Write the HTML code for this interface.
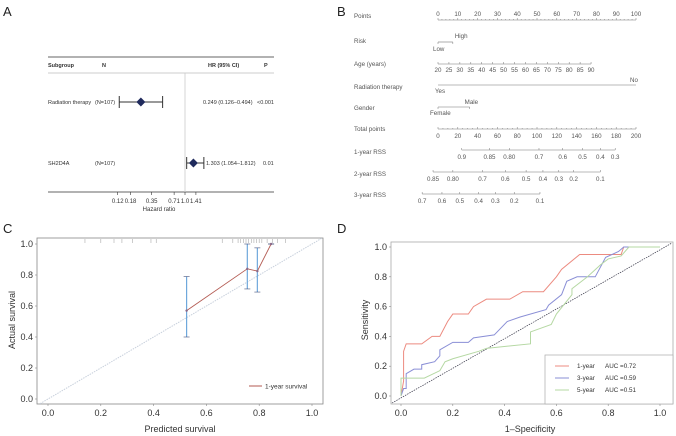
<!DOCTYPE html>
<html><head><meta charset="utf-8"><style>
html,body{margin:0;padding:0;background:#fff;}
svg{display:block;font-family:"Liberation Sans",Arial,sans-serif;}
</style></head><body>
<svg id="fig" width="676" height="436" viewBox="0 0 676 436">
<g>
 <text x="3" y="16" font-size="13" fill="#222">A</text>
 <line x1="48" y1="57" x2="274" y2="57" stroke="#333" stroke-width="0.8"/>
 <line x1="48" y1="73" x2="274" y2="73" stroke="#999" stroke-width="0.5"/>
 <line x1="48" y1="192" x2="274" y2="192" stroke="#333" stroke-width="0.8"/>
 <g font-size="5.5" fill="#333">
  <text x="48" y="67" font-weight="bold">Subgroup</text>
  <text x="102" y="67" font-weight="bold">N</text>
  <text x="208" y="67" font-weight="bold">HR (95% CI)</text>
  <text x="264" y="67" font-weight="bold">P</text>
 </g>
 <g id="forest"></g>
</g>
<g>
 <text x="337" y="16" font-size="13" fill="#222">B</text>
 <g id="nomo"></g>
</g>
<g>
 <text x="3" y="233" font-size="13" fill="#222">C</text>
 <g id="calib"></g>
</g>
<g>
 <text x="337" y="233" font-size="13" fill="#222">D</text>
 <g id="roc"></g>
</g>
</svg>
<script>
// ---- Panel A data ----
const forestNames = ["Radiation therapy","SH2D4A"];
const forestN = ["(N=107)","(N=107)"];
const forestHR = [0.249,1.303];
const forestLo = [0.126,1.054];
const forestHi = [0.494,1.812];
const forestHRText = ["0.249 (0.126–0.494)","1.303 (1.054–1.812)"];
const forestP = ["<0.001","0.01"];
const forestTicks = [0.12,0.18,0.35,0.71,1.0,1.41];
const forestTickLabels = ["0.12","0.18","0.35","0.71","1.0","1.41"];

// ---- Panel B data ----
const nomoPointsTicks = [0,10,20,30,40,50,60,70,80,90,100];
const nomoAgeLabels = [20,25,30,35,40,45,50,55,60,65,70,75,80,85,90];
const nomoTotalTicks = [0,20,40,60,80,100,120,140,160,180,200];
const rss1Labels = ["0.9","0.85","0.80","0.7","0.6","0.5","0.4","0.3"];
const rss1Total = [24,52,72,102,126,146,164,179];
const rss2Labels = ["0.85","0.80","0.7","0.6","0.5","0.4","0.3","0.2","0.1"];
const rss2Total = [-5,15,45,68,89,106,122,137,164];
const rss3Labels = ["0.7","0.6","0.5","0.4","0.3","0.2","0.1"];
const rss3Total = [-16,4,22,41,58,77,103];

// ---- Panel C data ----
const calPred = [0.525,0.755,0.793,0.845];
const calObs = [0.57,0.84,0.825,1.0];
const calLo = [0.40,0.71,0.69,1.0];
const calHi = [0.79,1.0,0.975,1.0];
const calRug = [0.14,0.2,0.25,0.28,0.32,0.39,0.41,0.66,0.7,0.72,0.73,0.74,0.75,0.76,0.77,0.78,0.79,0.8,0.81,0.83,0.85,0.87,0.9];
const calTicks = [0,0.2,0.4,0.6,0.8,1.0];

// ---- Panel D data ----
const roc1x = [0,0.01,0.01,0.02,0.08,0.12,0.15,0.18,0.2,0.26,0.28,0.33,0.42,0.47,0.55,0.6,0.62,0.69,0.85,0.86,1];
const roc1y = [0,0.1,0.3,0.35,0.35,0.4,0.4,0.5,0.55,0.55,0.6,0.65,0.65,0.7,0.7,0.8,0.85,0.95,0.95,1,1];
const roc3x = [0,0.01,0.02,0.02,0.05,0.08,0.08,0.13,0.15,0.15,0.2,0.26,0.28,0.36,0.41,0.46,0.56,0.57,0.62,0.64,0.68,0.75,0.79,0.84,0.86,1];
const roc3y = [0,0.05,0.05,0.15,0.18,0.18,0.21,0.23,0.27,0.31,0.36,0.36,0.39,0.41,0.5,0.53,0.58,0.61,0.68,0.77,0.8,0.8,0.93,0.97,1,1];
const roc5x = [0,0,0.09,0.15,0.17,0.2,0.3,0.33,0.5,0.5,0.58,0.6,0.66,0.66,0.72,0.77,0.8,0.85,0.88,1];
const roc5y = [0,0.12,0.12,0.17,0.23,0.25,0.3,0.32,0.35,0.43,0.48,0.55,0.68,0.72,0.8,0.88,0.92,0.94,1,1];
const rocLabels = ["1-year","3-year","5-year"];
const rocAUC = ["AUC =0.72","AUC =0.59","AUC =0.51"];

const NS="http://www.w3.org/2000/svg";
function mk(parent,tag,attrs,text){const e=document.createElementNS(NS,tag);for(const k in attrs)e.setAttribute(k,attrs[k]);if(text!==undefined)e.textContent=text;parent.appendChild(e);return e;}

// ---- Panel A ----
(function(){
 const g=document.getElementById('forest');
 const fx=v=>185+22*Math.log2(v);
 const rowY=[102,163];
 let e=mk(g,'line',{x1:185,y1:73,x2:185,y2:192,stroke:'#ccc','stroke-width':0.8});
 
 
 forestNames.forEach((n,i)=>{
  const y=rowY[i];
  let t=mk(g,'text',{x:48,y:y+2,'font-size':5.5,fill:'#333'},n);
  
  
  t=mk(g,'text',{x:95,y:y+2,'font-size':5.5,fill:'#333'},forestN[i]);
  
  
  let l=mk(g,'line',{x1:fx(forestLo[i]),y1:y,x2:fx(forestHi[i]),y2:y,stroke:'#333','stroke-width':1});
  
  
  [forestLo[i],forestHi[i]].forEach(v=>{let c=mk(g,'line',{x1:fx(v),y1:y-6,x2:fx(v),y2:y+6,stroke:'#333','stroke-width':1});
   
   });
  const cx=fx(forestHR[i]);
  let d=mk(g,'polygon',{points:`${cx-4.5},${y} ${cx},${y-4.5} ${cx+4.5},${y} ${cx},${y+4.5}`,fill:'#1f2a5c'});
  
  
  t=mk(g,'text',{x:i?206:203,y:y+2,'font-size':5.5,fill:'#333'},forestHRText[i]);
  
  
  t=mk(g,'text',{x:i?263:257,y:y+2,'font-size':5.5,fill:'#333'},forestP[i]);
  
  
 });
 forestTicks.forEach((v,i)=>{
  let l=mk(g,'line',{x1:fx(v),y1:192,x2:fx(v),y2:195,stroke:'#333','stroke-width':0.6});
  
  
  let t=mk(g,'text',{x:fx(v),y:203,'font-size':6,fill:'#333','text-anchor':'middle'},forestTickLabels[i]);
  
  
 });
 let t=mk(g,'text',{x:159,y:211,'font-size':6,fill:'#333','text-anchor':'middle'},'Hazard ratio');
 
 
})();

// ---- Panel B ----
(function(){
 const g=document.getElementById('nomo');
 const px=p=>438+1.98*p, tx=v=>438+0.99*v;
 const col='#555', fs=6.2;
 function label(y,s){let t=mk(g,'text',{x:354,y:y,'font-size':fs,fill:col},s);
  
  }
 function axis(x1,x2,y){let l=mk(g,'line',{x1:x1,y1:y,x2:x2,y2:y,stroke:'#777','stroke-width':0.6});
  
  }
 function tick(x,y,up,lab,ly){let l=mk(g,'line',{x1:x,y1:y,x2:x,y2:y+(up?-2:2),stroke:'#777','stroke-width':0.5});
  
  
  if(lab!==undefined){let t=mk(g,'text',{x:x,y:ly,'font-size':fs,fill:col,'text-anchor':'middle'},lab);
  
  }}
 function txt(x,y,s,a){let t=mk(g,'text',{x:x,y:y,'font-size':fs,fill:col,'text-anchor':a||'middle'},s);
  
  }
 label(18,'Points'); axis(px(0),px(100),20);
 for(let p=0;p<=100;p+=2) {let l=mk(g,'line',{x1:px(p),y1:20,x2:px(p),y2:p%10?19:18,stroke:'#777','stroke-width':0.5});}
 nomoPointsTicks.forEach(p=>txt(px(p),16,String(p)));
 label(43,'Risk'); axis(px(0),px(7.5),42); tick(px(0),42,false); tick(px(7.5),42,false);
 txt(px(7.5)+2,38,'High','start'); txt(px(0)-5,51,'Low','start');
 label(66,'Age (years)'); axis(px(0),px(77.3),64);
 nomoAgeLabels.forEach((a,i)=>tick(px((a-20)*77.3/70),64,true,String(a),72));
 label(89,'Radiation therapy'); axis(px(0),px(100),85);
 txt(634,82,'No'); txt(440,93,'Yes');
 label(110,'Gender'); axis(px(0),px(16),107); tick(px(0),107,false); tick(px(16),107,false);
 txt(px(16)-5,104,'Male','start'); txt(px(0)-8,115,'Female','start');
 label(131,'Total points'); axis(tx(0),tx(200),129);
 for(let v=0;v<=200;v+=5){let l=mk(g,'line',{x1:tx(v),y1:129,x2:tx(v),y2:v%20?128:127,stroke:'#777','stroke-width':0.5});}
 nomoTotalTicks.forEach(v=>txt(tx(v),138,String(v)));
 label(154,'1-year RSS'); axis(tx(rss1Total[0]),tx(rss1Total[rss1Total.length-1]),150);
 rss1Total.forEach((v,i)=>tick(tx(v),150,true,rss1Labels[i],159));
 label(176,'2-year RSS'); axis(tx(rss2Total[0]),tx(rss2Total[rss2Total.length-1]),172);
 rss2Total.forEach((v,i)=>tick(tx(v),172,true,rss2Labels[i],181));
 label(197,'3-year RSS'); axis(tx(rss3Total[0]),tx(rss3Total[rss3Total.length-1]),194);
 rss3Total.forEach((v,i)=>tick(tx(v),194,true,rss3Labels[i],203));
})();

// ---- Panel C ----
(function(){
 const g=document.getElementById('calib');
 const X=v=>48+264*v, Y=v=>399-155*v;
 let r=mk(g,'rect',{x:37,y:238,width:286,height:166,fill:'none',stroke:'#888','stroke-width':0.8});
 
 
 let d=mk(g,'line',{x1:X(-0.03),y1:Y(-0.03),x2:X(1.04),y2:Y(1.04),stroke:'#c8d0dc','stroke-width':1,'stroke-dasharray':'1.5 1'});
 
 
 calTicks.forEach(v=>{
  let t=mk(g,'text',{x:33,y:Y(v)+3,'font-size':9,fill:'#333','text-anchor':'end'},v.toFixed(1));
  
  
  let l=mk(g,'line',{x1:35,y1:Y(v),x2:37,y2:Y(v),stroke:'#888','stroke-width':0.6});
  
  
  t=mk(g,'text',{x:X(v),y:416,'font-size':9,fill:'#333','text-anchor':'middle'},v.toFixed(1));
  
  
  l=mk(g,'line',{x1:X(v),y1:404,x2:X(v),y2:406,stroke:'#888','stroke-width':0.6});
  
  
 });
 calRug.forEach(v=>{let l=mk(g,'line',{x1:X(v),y1:239,x2:X(v),y2:243,stroke:'#aaa','stroke-width':0.6});
  
  });
 calPred.forEach((p,i)=>{
  let l=mk(g,'line',{x1:X(p),y1:Y(calLo[i]),x2:X(p),y2:Y(calHi[i]),stroke:'#6fa8dc','stroke-width':1.2});
  
  
  [calLo[i],calHi[i]].forEach(v=>{let c=mk(g,'line',{x1:X(p)-3,y1:Y(v),x2:X(p)+3,y2:Y(v),stroke:'#44507a','stroke-width':0.6});
   
   });
 });
 let pl=mk(g,'polyline',{points:calPred.map((p,i)=>X(p)+','+Y(calObs[i])).join(' '),fill:'none',stroke:'#b35a52','stroke-width':0.9});
 
 
 calPred.forEach((p,i)=>{let c=mk(g,'circle',{cx:X(p),cy:Y(calObs[i]),r:1.2,fill:'#8a6a8a'});
  
  });
 let ll=mk(g,'line',{x1:249,y1:386,x2:262,y2:386,stroke:'#b35a52','stroke-width':1});
 
 
 let t=mk(g,'text',{x:265,y:388.5,'font-size':6.5,fill:'#333'},'1-year survival');
 
 
 t=mk(g,'text',{x:180,y:432,'font-size':9,fill:'#333','text-anchor':'middle'},'Predicted survival');
 
 
 t=mk(g,'text',{x:0,y:0,'font-size':9,fill:'#333','text-anchor':'middle',transform:'translate(15,320) rotate(-90)'},'Actual survival');
 
 
})();

// ---- Panel D ----
(function(){
 const g=document.getElementById('roc');
 const X=v=>401+259*v, Y=v=>396-149*v;
 let r=mk(g,'rect',{x:391,y:242,width:282,height:162,fill:'none',stroke:'#aaa','stroke-width':0.8});
 
 
 let d=mk(g,'line',{x1:392,y1:403,x2:672,y2:243,stroke:'#334','stroke-width':0.7,'stroke-dasharray':'1.5 1'});
 
 
 calTicks.forEach(v=>{
  let t=mk(g,'text',{x:387,y:Y(v)+3,'font-size':9,fill:'#333','text-anchor':'end'},v.toFixed(1));
  
  
  let l=mk(g,'line',{x1:389,y1:Y(v),x2:391,y2:Y(v),stroke:'#888','stroke-width':0.6});
  
  
  t=mk(g,'text',{x:X(v),y:416,'font-size':9,fill:'#333','text-anchor':'middle'},v.toFixed(1));
  
  
  l=mk(g,'line',{x1:X(v),y1:404,x2:X(v),y2:406,stroke:'#888','stroke-width':0.6});
  
  
 });
 const series=[[roc1x,roc1y,'#ec8b80'],[roc3x,roc3y,'#8a8fd6'],[roc5x,roc5y,'#b5d8a3']];
 series.forEach((s,k)=>{
  let p=mk(g,'polyline',{points:s[0].map((x,i)=>X(x)+','+Y(s[1][i])).join(' '),fill:'none',stroke:s[2],'stroke-width':1});
  
  
 });
 let lb=mk(g,'rect',{x:545,y:355,width:128,height:49,fill:'#fff',stroke:'#aaa','stroke-width':0.7});
 
 
 series.forEach((s,k)=>{
  const y=366+12*k;
  let l=mk(g,'line',{x1:555,y1:y,x2:569,y2:y,stroke:s[2],'stroke-width':1});
  
  
  let t=mk(g,'text',{x:577,y:y+2.2,'font-size':6.3,fill:'#333'},rocLabels[k]);
  
  
  t=mk(g,'text',{x:605,y:y+2.2,'font-size':6.3,fill:'#333'},rocAUC[k]);
  
  
 });
 let t=mk(g,'text',{x:530,y:432,'font-size':9,fill:'#333','text-anchor':'middle'},'1–Specificity');
 
 
 t=mk(g,'text',{x:0,y:0,'font-size':9,fill:'#333','text-anchor':'middle',transform:'translate(368,320) rotate(-90)'},'Sensitivity');
 
 
})();
</script>
</body></html>
